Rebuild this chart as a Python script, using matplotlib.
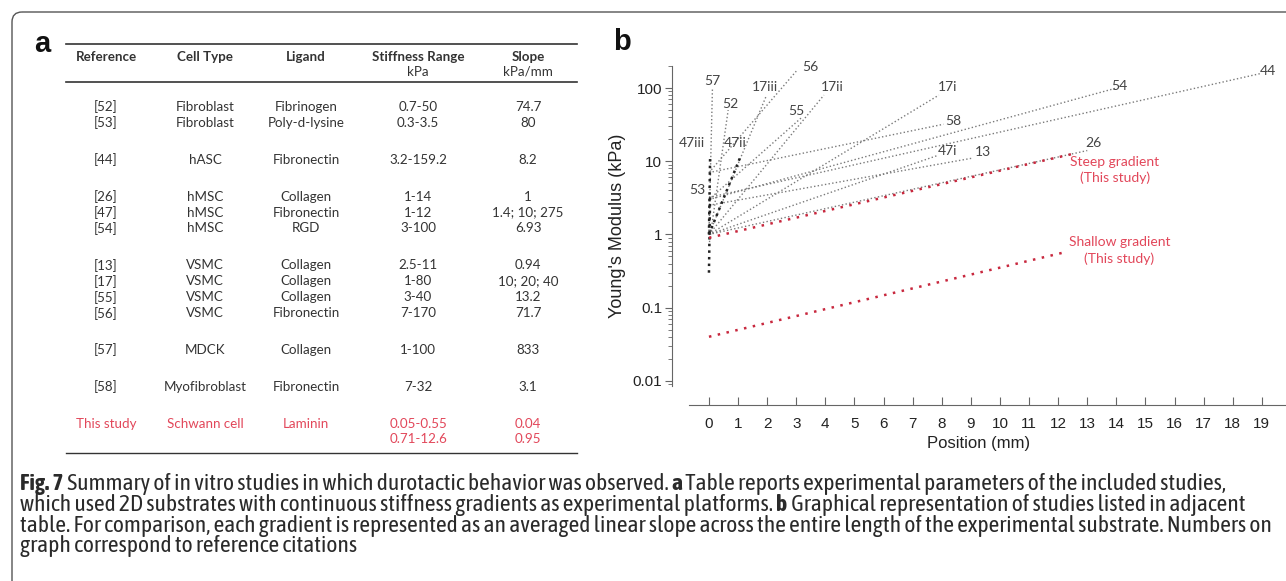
import numpy as np
import matplotlib
matplotlib.use("Agg")
import matplotlib.pyplot as plt
from matplotlib import font_manager
from matplotlib.patches import FancyBboxPatch
from matplotlib.ticker import LogLocator, NullFormatter

# ---- panel a : table ----
refs = ["[52]", "[53]", "[44]", "[26]", "[47]", "[54]", "[13]", "[17]", "[55]", "[56]", "[57]", "[58]"]
cell_types = ["Fibroblast", "Fibroblast", "hASC", "hMSC", "hMSC", "hMSC",
              "VSMC", "VSMC", "VSMC", "VSMC", "MDCK", "Myofibroblast"]
ligands = ["Fibrinogen", "Poly-d-lysine", "Fibronectin", "Collagen", "Fibronectin", "RGD",
           "Collagen", "Collagen", "Collagen", "Fibronectin", "Collagen", "Fibronectin"]
stiff_ranges = ["0.7-50", "0.3-3.5", "3.2-159.2", "1-14", "1-12", "3-100",
                "2.5-11", "1-80", "3-40", "7-170", "1-100", "7-32"]
slopes = ["74.7", "80", "8.2", "1", "1.4; 10; 275", "6.93",
          "0.94", "10; 20; 40", "13.2", "71.7", "833", "3.1"]
groups = [0, 0, 1, 2, 2, 2, 3, 3, 3, 3, 4, 5]
this_study = ["This study", "Schwann cell", "Laminin", "0.05-0.55\n0.71-12.6", "0.04\n0.95"]
headers = ["Reference", "Cell Type", "Ligand", "Stiffness Range", "Slope"]
units = ["", "", "", "kPa", "kPa/mm"]

# ---- panel b : gradients (all start at 0 mm) ----
line_names = ["52", "53", "44", "26", "47i", "47ii", "47iii", "54", "13",
              "17i", "17ii", "17iii", "55", "56", "57", "58"]
start_kpa = [0.7, 0.3, 3.2, 1, 1, 1, 1, 3, 2.5, 1, 1, 1, 3, 7, 1, 7]
end_kpa = [50, 3.5, 159.2, 14, 12, 12, 12, 100, 11, 80, 80, 80, 40, 170, 100, 32]
end_mm = [0.66, 0.04, 19.0, 13.0, 7.86, 1.1, 0.04, 14.0, 9.04, 7.9, 3.95, 1.98, 3.2, 3.0, 0.12, 8.06]
label_mm = [0.72, -0.41, 19.2, 13.2, 8.2, 0.89, -0.58, 14.1, 9.4, 8.2, 4.23, 1.92, 3.02, 3.47, 0.1, 8.4]
label_kpa = [60, 4.1, 171, 17.6, 13.7, 18, 18, 106, 13.3, 103, 103, 103, 48, 194, 126, 35]
bold_lines = ["47ii", "47iii", "53"]

study_names = ["Steep gradient\n(This study)", "Shallow gradient\n(This study)"]
study_start = [0.9, 0.04]
study_end = [12.6, 0.58]
study_len = [12.5, 12.3]
study_label_mm = [13.95, 14.1]
study_label_kpa = [7.6, 0.6]

xticks = list(range(20))
yticks = [0.01, 0.1, 1, 10, 100]
ytick_labels = ["0.01", "0.1", "1", "10", "100"]

RED = "#e2475a"
GREY = "#333333"

W, H = 1286, 581
fig = plt.figure(figsize=(W / 100, H / 100), dpi=100)

# background axes in pixel units (box, table, caption)
bg = fig.add_axes([0, 0, 1, 1])
bg.set_xlim(0, W)
bg.set_ylim(H, 0)
bg.axis("off")

box = FancyBboxPatch((12, 12), W + 40, H + 40, boxstyle="round,pad=0,rounding_size=10",
                     fc="none", ec="#555555", lw=1.0)
bg.add_patch(box)

bg.text(42, 44, "a", fontsize=21, fontweight="bold", family="Liberation Sans",
        ha="center", va="center", color="#111111")

tfont = "Lato"
tsize = 9.6
col_x = [106, 205, 306, 418, 528]
bg.plot([66, 577], [44, 44], color=GREY, lw=1.2)
bg.plot([66, 577], [82, 82], color=GREY, lw=1.2)
bg.plot([66, 577], [453, 453], color=GREY, lw=1.0)
for cx, h, u in zip(col_x, headers, units):
    bg.text(cx, 57, h, fontsize=tsize, fontweight="bold", family=tfont, ha="center",
            va="center", color=GREY)
    if u:
        bg.text(cx, 72, u, fontsize=tsize, family=tfont, ha="center", va="center", color=GREY)

for i in range(len(refs)):
    y = 107 + 15.9 * i + 21 * groups[i]
    row = [refs[i], cell_types[i], ligands[i], stiff_ranges[i], slopes[i]]
    for cx, s in zip(col_x, row):
        bg.text(cx, y, s, fontsize=tsize, family=tfont, ha="center", va="center", color=GREY)

y_ts = 107 + 15.9 * len(refs) + 21 * (groups[-1] + 1)
for cx, s in zip(col_x, this_study):
    bg.text(cx, y_ts - 6, s, fontsize=tsize, family=tfont, ha="center", va="top",
            color=RED, linespacing=1.3)

# caption: prefer a narrow family that also has a bold face
def _w(v):
    return v if isinstance(v, int) else font_manager.weight_dict.get(v, 400)

narrow = {}
for f in font_manager.fontManager.ttflist:
    if "Narrow" in f.name or "Condensed" in f.name:
        narrow.setdefault(f.name, set()).add(_w(f.weight))
with_bold = [n for n, ws in narrow.items() if max(ws) >= 600 and min(ws) <= 400]
if with_bold:
    cap_font = [with_bold[0], "DejaVu Sans"]
elif narrow:
    cap_font = [list(narrow)[0], "DejaVu Sans"]
else:
    cap_font = ["Liberation Sans", "DejaVu Sans"]

caption = [
    [("Fig. 7", "bold"), (" Summary of in vitro studies in which durotactic behavior was observed. ", "normal"),
     ("a", "bold"), (" Table reports experimental parameters of the included studies,", "normal")],
    [("which used 2D substrates with continuous stiffness gradients as experimental platforms. ", "normal"),
     ("b", "bold"), (" Graphical representation of studies listed in adjacent", "normal")],
    [("table. For comparison, each gradient is represented as an averaged linear slope across the entire "
      "length of the experimental substrate. Numbers on", "normal")],
    [("graph correspond to reference citations", "normal")],
]
renderer = fig.canvas.get_renderer()
probe = bg.text(0, 0, caption[2][0][0], fontsize=12, family=cap_font)
cap_size = 12 * 1250 / probe.get_window_extent(renderer).width
probe.remove()
for k, runs in enumerate(caption):
    x = 20
    y = 484 + 20.8 * k
    for s, wgt in runs:
        t = bg.text(x, y, s, fontsize=cap_size, fontweight=wgt, family=cap_font,
                    ha="left", va="center", color="#2a2a2a")
        x += t.get_window_extent(renderer).width

# ---- panel b ----
fig.text(622, H - 42, "b", fontsize=21, fontweight="bold", family="Liberation Sans",
         ha="center", va="center", color="#111111", transform=None)

ax = fig.add_axes([672 / W, 1 - 386 / H, (W - 672) / W, 320 / H])
ax.set_yscale("log")
ax.set_xlim(-1.27, 19.83)
ax.set_ylim(0.0085, 200)

for name, y0, y1, L in zip(line_names, start_kpa, end_kpa, end_mm):
    if name in bold_lines:
        ax.plot([0, L], [y0, y1], color="#222222", lw=1.8, ls=":", zorder=3)
    else:
        ax.plot([0, L], [y0, y1], color="#7a7a7a", lw=1.0, ls=":", zorder=2)
for name, lx, ly in zip(line_names, label_mm, label_kpa):
    ax.text(lx, ly, name, fontsize=10, family="Lato", color="#444444",
            ha="center", va="center")

for name, y0, y1, L, lx, ly in zip(study_names, study_start, study_end, study_len,
                                   study_label_mm, study_label_kpa):
    ax.plot([0, L], [y0, y1], color="#c8283e", lw=1.8, ls=(0, (1, 2.6)), zorder=3)
    ax.text(lx, ly, name, fontsize=10, family="Lato", color=RED, ha="center",
            va="center", linespacing=1.4)

for side in ["top", "right"]:
    ax.spines[side].set_visible(False)
ax.spines["left"].set_color("#666666")
ax.spines["bottom"].set_color("#666666")
ax.spines["bottom"].set_position(("outward", 14))
ax.spines["bottom"].set_bounds(-0.7, 19.8)

ax.set_yticks(yticks)
ax.set_yticklabels(ytick_labels)
ax.yaxis.set_minor_locator(LogLocator(base=10, subs=np.arange(2, 10)))
ax.yaxis.set_minor_formatter(NullFormatter())
ax.tick_params(axis="y", which="major", length=5, color="#666666", labelsize=11,
               labelcolor="#222222", pad=2)
ax.tick_params(axis="y", which="minor", length=3, color="#666666")
ax.set_xticks(xticks)
ax.tick_params(axis="x", which="major", direction="in", length=6, color="#666666",
               labelsize=11, labelcolor="#222222", pad=8)
for lab in ax.get_xticklabels() + ax.get_yticklabels():
    lab.set_family("Liberation Sans")

ax.set_ylabel("Young's Modulus (kPa)", fontsize=13, family="Liberation Sans", color="#222222",
              labelpad=5)
ax.set_xlabel("Position (mm)", fontsize=12, family="Liberation Sans", color="#222222",
              labelpad=4)
ax.patch.set_alpha(0)

fig.savefig("out.png", dpi=100)
